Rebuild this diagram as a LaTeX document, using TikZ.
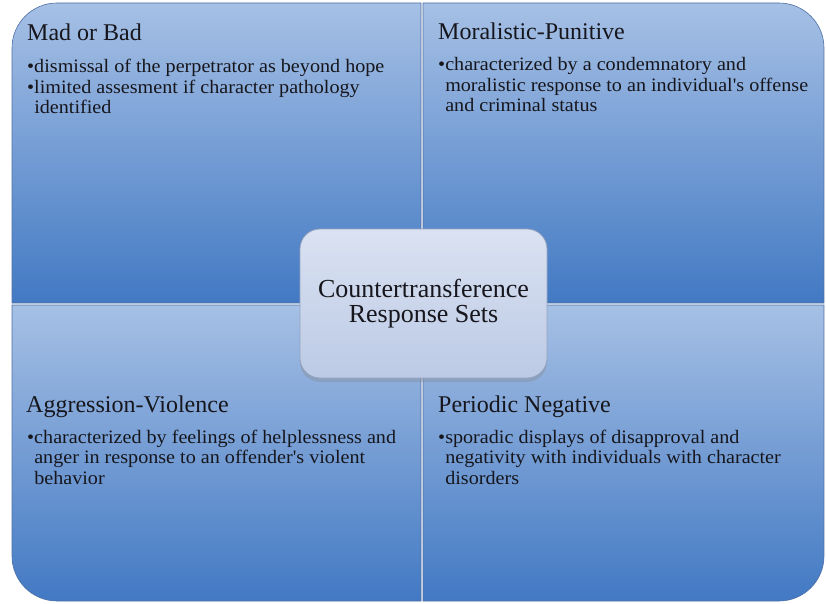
\documentclass[tikz,border=0pt]{standalone}
\usepackage{fontspec}
\setmainfont{Liberation Serif}
\newfontfamily\bodyfont[FakeStretch=1.06]{Liberation Serif}
\usetikzlibrary{shadows}
\definecolor{qtop}{RGB}{166,192,229}
\definecolor{qmid}{RGB}{140,172,220}
\definecolor{qbot}{RGB}{66,121,195}
\definecolor{qedge}{RGB}{78,112,165}
\definecolor{ctop}{RGB}{218,226,242}
\definecolor{cbot}{RGB}{188,202,229}
\definecolor{cedge}{RGB}{150,163,190}
\definecolor{txt}{RGB}{22,22,28}
\tikzset{
  quad/.style={draw=qedge, line width=0.6pt, top color=qtop, middle color=qmid, bottom color=qbot},
  qtitle/.style={anchor=base west, inner sep=0pt, text=txt, font=\fontsize{24}{26}\selectfont},
  qbody/.style={anchor=base west, inner sep=0pt, align=left, text=txt, font=\bodyfont\fontsize{19}{20.5}\selectfont},
  hub/.style={draw=cedge, line width=0.8pt, rounded corners=20pt, top color=ctop, bottom color=cbot,
    minimum width=247pt, minimum height=149pt, align=center, text=txt,
    font=\fontsize{26}{25}\selectfont,
    drop shadow={shadow xshift=0pt, shadow yshift=-4pt, opacity=0.3}}
}
\newcommand{\hb}{\hphantom{•}}
\begin{document}
\begin{tikzpicture}[x=1pt,y=-1pt]
\useasboundingbox (0,0) rectangle (826,604);
% quadrants
\path[quad] (421,303) -- (12,303) -- (12,48) arc[start angle=180,end angle=270,radius=45] -- (421,3) -- cycle;
\path[quad] (423,303) -- (423,3) -- (779,3) arc[start angle=270,end angle=360,radius=45] -- (824,303) -- cycle;
\path[quad] (421,305) -- (12,305) -- (12,556) arc[start angle=180,end angle=90,radius=45] -- (421,601) -- cycle;
\path[quad] (423,305) -- (824,305) -- (824,556) arc[start angle=0,end angle=90,radius=45] -- (423,601) -- cycle;
% titles
\node[qtitle] (t1) at (27,41) {Mad or Bad};
\node[qtitle] (t2) at (438,40) {Moralistic-Punitive};
\node[qtitle] (t3) at (26,412) {Aggression-Violence};
\node[qtitle] (t4) at (438,412) {Periodic Negative};
% bodies (anchored at the baseline of the last line)
\node[qbody] (b1) at (27,114) {•dismissal of the perpetrator as beyond hope\\•limited assesment if character pathology\\\hb identified};
\node[qbody] (b2) at (438,112) {•characterized by a condemnatory and\\\hb moralistic response to an individual's offense\\\hb and criminal status};
\node[qbody] (b3) at (27,484) {•characterized by feelings of helplessness and\\\hb anger in response to an offender's violent\\\hb behavior};
\node[qbody] (b4) at (438,484) {•sporadic displays of disapproval and\\\hb negativity with individuals with character\\\hb disorders};
% centre
\node[hub] (hub) at (423.5,303.5) {Countertransference\\Response Sets};
\end{tikzpicture}
\end{document}
